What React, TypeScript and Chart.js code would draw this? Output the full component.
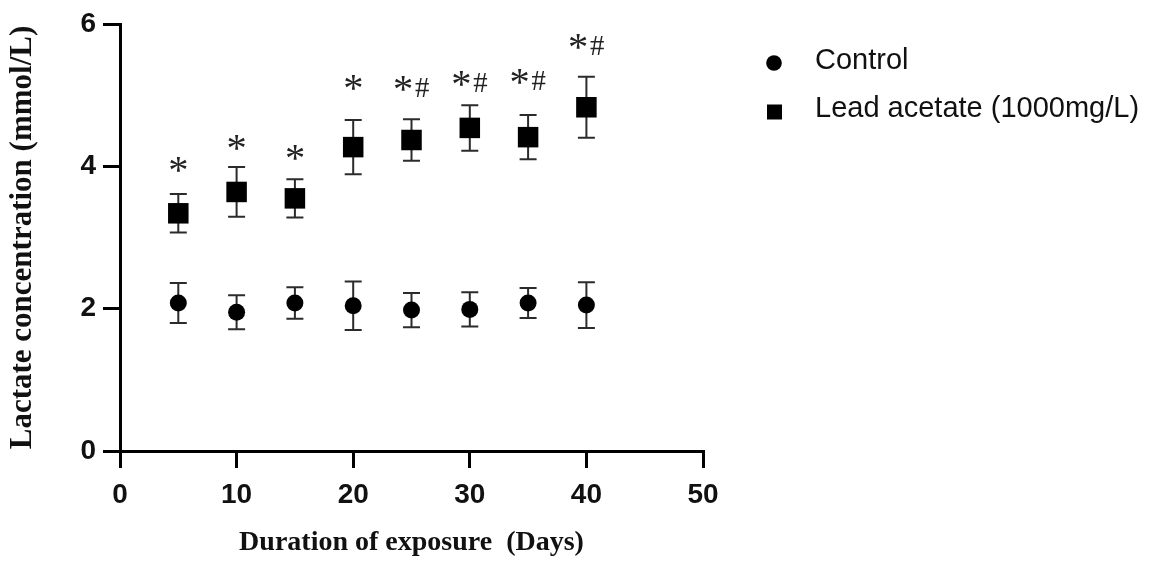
import React, { useEffect, useRef } from "react";
import { Chart, registerables } from "chart.js";

Chart.register(...registerables);

// ---------- data ----------
const days = [5, 10, 15, 20, 25, 30, 35, 40];
const controlMean = [2.08, 1.95, 2.08, 2.04, 1.98, 1.99, 2.08, 2.05];
const controlSem = [0.28, 0.24, 0.22, 0.34, 0.24, 0.24, 0.21, 0.32];
const leadMean = [3.34, 3.64, 3.55, 4.27, 4.37, 4.54, 4.41, 4.83];
const leadSem = [0.27, 0.35, 0.27, 0.38, 0.29, 0.32, 0.31, 0.43];
const markLabels = ["*", "*", "*", "*", "*#", "*#", "*#", "*#"];
const markY = [4.02, 4.33, 4.2, 5.18, 5.17, 5.24, 5.26, 5.75];
const xTicks = [0, 10, 20, 30, 40, 50];
const yTicks = [0, 2, 4, 6];
const seriesNames = ["Control", "Lead acetate (1000mg/L)"];
const xTitle = "Duration of exposure  (Days)";
const yTitle = "Lactate concentration (mmol/L)";

const SANS = "'Liberation Sans', Arial, sans-serif";
const SERIF = "'Liberation Serif', 'Times New Roman', serif";

const errorBarPlugin = {
  id: "errorBars",
  beforeDatasetsDraw(chart: any) {
    const ctx = chart.ctx;
    const ys = chart.scales.y;
    chart.data.datasets.forEach((ds: any, di: number) => {
      const meta = chart.getDatasetMeta(di);
      meta.data.forEach((pt: any, i: number) => {
        const v = ds.data[i].y;
        const e = ds.errors[i];
        const top = ys.getPixelForValue(v + e);
        const bot = ys.getPixelForValue(v - e);
        const half = 8.5;
        ctx.save();
        ctx.strokeStyle = "#2b2b2b";
        ctx.lineWidth = 2;
        ctx.beginPath();
        ctx.moveTo(pt.x, top);
        ctx.lineTo(pt.x, bot);
        ctx.moveTo(pt.x - half, top);
        ctx.lineTo(pt.x + half, top);
        ctx.moveTo(pt.x - half, bot);
        ctx.lineTo(pt.x + half, bot);
        ctx.stroke();
        ctx.restore();
      });
    });
  },
};

const markPlugin = {
  id: "marks",
  afterDatasetsDraw(chart: any) {
    const ctx = chart.ctx;
    const xs = chart.scales.x;
    const ys = chart.scales.y;
    ctx.save();
    ctx.fillStyle = "#222";
    ctx.textBaseline = "alphabetic";
    ctx.textAlign = "left";
    ctx.font = `100px ${SERIF}`;
    const ma = ctx.measureText("*");
    const inkA = ma.actualBoundingBoxRight + ma.actualBoundingBoxLeft;
    const sizeA = (100 * 17) / inkA;
    const mh = ctx.measureText("#");
    const inkH = mh.actualBoundingBoxAscent + mh.actualBoundingBoxDescent;
    const sizeH = (100 * 19) / inkH;
    markLabels.forEach((lab, i) => {
      const cx = xs.getPixelForValue(days[i]);
      const cy = ys.getPixelForValue(markY[i]);
      const parts = lab.split("");
      const metrics = parts.map((p) => {
        ctx.font = p === "*" ? `${sizeA}px ${SERIF}` : `${sizeH}px ${SERIF}`;
        const m = ctx.measureText(p);
        return { p, m, font: ctx.font };
      });
      const gap = 3;
      const widths = metrics.map(
        (o) => o.m.actualBoundingBoxRight + o.m.actualBoundingBoxLeft
      );
      const total = widths.reduce((a, b) => a + b, 0) + gap * (parts.length - 1);
      let x = cx - total / 2;
      metrics.forEach((o, k) => {
        ctx.font = o.font;
        const inkCenter = (o.m.actualBoundingBoxAscent - o.m.actualBoundingBoxDescent) / 2;
        const target = o.p === "#" ? cy + 4 : cy;
        ctx.fillText(o.p, x + o.m.actualBoundingBoxLeft, target + inkCenter);
        x += widths[k] + gap;
      });
    });
    ctx.restore();
  },
};

const legendPlugin = {
  id: "customLegend",
  afterDraw(chart: any) {
    const ctx = chart.ctx;
    const rows = [
      { cx: 774, cy: 63, ty: 61 },
      { cx: 774.5, cy: 112, ty: 109 },
    ];
    ctx.save();
    chart.data.datasets.forEach((ds: any, i: number) => {
      const r = rows[i];
      ctx.fillStyle = "#000";
      ctx.beginPath();
      if (ds.pointStyle === "rect") {
        ctx.rect(r.cx - 7.5, r.cy - 7.5, 15, 15);
      } else {
        ctx.arc(r.cx, r.cy, 7.8, 0, Math.PI * 2);
      }
      ctx.fill();
      ctx.font = `29px ${SANS}`;
      ctx.textBaseline = "middle";
      ctx.textAlign = "left";
      ctx.fillStyle = "#111";
      ctx.fillText(ds.label, 815, r.ty);
    });
    ctx.restore();
  },
};

export default function App() {
  const ref = useRef<HTMLCanvasElement | null>(null);

  useEffect(() => {
    if (!ref.current) return;
    const chart = new Chart(ref.current, {
      type: "scatter",
      data: {
        datasets: [
          {
            label: seriesNames[0],
            data: days.map((d, i) => ({ x: d, y: controlMean[i] })),
            errors: controlSem,
            pointStyle: "circle",
            pointRadius: 8.5,
            pointHoverRadius: 8.5,
            backgroundColor: "#000",
            borderWidth: 0,
            showLine: false,
            clip: false,
          } as any,
          {
            label: seriesNames[1],
            data: days.map((d, i) => ({ x: d, y: leadMean[i] })),
            errors: leadSem,
            pointStyle: "rect",
            pointRadius: 14.5,
            pointHoverRadius: 14.5,
            backgroundColor: "#000",
            borderWidth: 0,
            showLine: false,
            clip: false,
          } as any,
        ],
      },
      options: {
        responsive: false,
        animation: false,
        events: [],
        layout: { padding: { left: 0, right: 447, top: 24, bottom: 0 } },
        plugins: {
          legend: { display: false },
          tooltip: { enabled: false },
        },
        scales: {
          x: {
            type: "linear",
            position: "bottom",
            min: 0,
            max: 50,
            afterBuildTicks: (s: any) => {
              s.ticks = xTicks.map((v) => ({ value: v }));
            },
            afterFit: (s: any) => {
              s.height = 114;
            },
            ticks: {
              font: { family: SANS, size: 28, weight: "bold" },
              color: "#111",
              padding: 10,
              maxRotation: 0,
            },
            grid: {
              display: true,
              drawOnChartArea: false,
              drawTicks: true,
              tickLength: 17,
              tickWidth: 3,
              tickColor: "#000",
              lineWidth: 3,
              color: "#000",
            },
            border: { display: true, color: "#000", width: 3 },
            title: {
              display: true,
              text: xTitle,
              font: { family: SERIF, size: 28, weight: "bold" },
              color: "#111",
              padding: { top: 0, bottom: 5 },
            },
          },
          y: {
            type: "linear",
            min: 0,
            max: 6,
            afterBuildTicks: (s: any) => {
              s.ticks = yTicks.map((v) => ({ value: v }));
            },
            afterFit: (s: any) => {
              s.width = 120;
            },
            ticks: {
              font: { family: SANS, size: 28, weight: "bold" },
              color: "#111",
              padding: 7,
            },
            grid: {
              display: true,
              drawOnChartArea: false,
              drawTicks: true,
              tickLength: 17,
              tickWidth: 3,
              tickColor: "#000",
              lineWidth: 3,
              color: "#000",
            },
            border: { display: true, color: "#000", width: 3 },
            title: {
              display: true,
              text: yTitle,
              font: { family: SERIF, size: 31, weight: "bold" },
              color: "#111",
              padding: { top: 4, bottom: 0 },
            },
          },
        },
      } as any,
      plugins: [errorBarPlugin, markPlugin, legendPlugin],
    });
    return () => chart.destroy();
  }, []);

  return (
    <div style={{ position: "absolute", left: 0, top: 0, width: 1150, height: 565, background: "#fff" }}>
      <canvas ref={ref} width={1150} height={565} />
    </div>
  );
}
